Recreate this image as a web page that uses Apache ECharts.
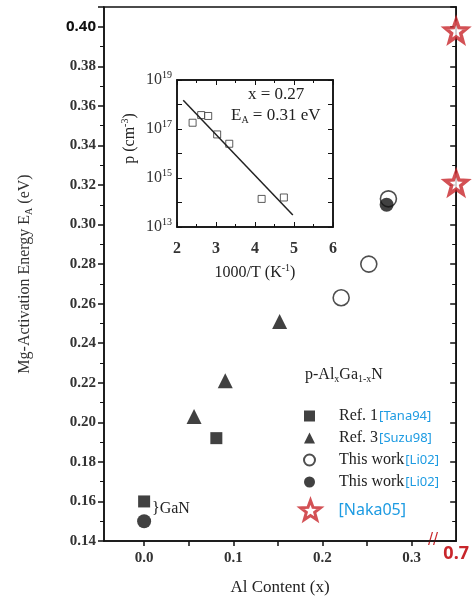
<!DOCTYPE html>
<html lang="en">
<head>
    <meta charset="UTF-8">
    <title>Mg activation energy</title>
    <script src="https://cdn.jsdelivr.net/npm/echarts@6/dist/echarts.min.js"></script>
    <style>
        html, body { margin: 0; padding: 0; background: #fff; }
        #graph { width: 472px; height: 601px; }
    </style>
</head>
<body>
<div id="graph"></div>

<script>
    // main plot data (x = Al content, y = activation energy in eV)
    var ref1X = [0, 0.081];
    var ref1Y = [0.160, 0.192];
    var ref3X = [0.056, 0.091, 0.152];
    var ref3Y = [0.203, 0.221, 0.251];
    var openX = [0.221, 0.252, 0.274];
    var openY = [0.263, 0.280, 0.313];
    var filledX = [0, 0.272];
    var filledY = [0.150, 0.310];
    var nakaX = [0.7, 0.7];
    var nakaY = [0.398, 0.321];

    var xTicks = [0, 0.1, 0.2, 0.3];
    var xMinorTicks = [0, 0.05, 0.1, 0.15, 0.2, 0.25, 0.3];

    // inset data (1000/T vs hole concentration)
    var insetX = [2.40, 2.62, 2.80, 3.03, 3.34, 4.17, 4.74];
    var insetP = [1.8e17, 3.7e17, 3.4e17, 6.0e16, 2.5e16, 1.4e14, 1.6e14];
    var fitX = [2.16, 4.97];
    var fitP = [1.5e18, 3.1e13];

    function pairs(xs, ys){
        return xs.map(function(x, i){ return [x, ys[i]]; });
    }

    var serif = 'Liberation Serif';
    var blue = '#1d9be2';
    var red = '#c8262b';
    var star = 'path://M50,0 L62,33 L98,35 L70,57 L80,92 L50,72 L20,92 L30,57 L2,35 L38,33 Z';

    var legendText = {
        'Ref. 1': '{r|Ref. 1}{b|[Tana94]}',
        'Ref. 3': '{r|Ref. 3}{b|[Suzu98]}',
        'This work (open)': '{r|This work}{b|[Li02]}',
        'This work (filled)': '{r|This work}{b|[Li02]}',
        'Naka05': '{n|[Naka05]}'
    };
    var legendRich = {
        r: {fontFamily: serif, fontSize: 16, color: '#222', padding: [0, 1, 0, 19]},
        b: {fontFamily: 'Noto Sans', fontSize: 13, color: blue},
        n: {fontFamily: 'Noto Sans', fontSize: 16, color: blue, padding: [0, 0, 0, 13]}
    };

    var supRich = {
        s: {fontFamily: serif, fontSize: 10, color: '#222', padding: [0, 0, 9, 0]},
        d: {fontFamily: serif, fontSize: 10, color: '#222', padding: [9, 0, 0, 0]}
    };

    var chartDom = document.getElementById('graph');
    var myChart = echarts.init(chartDom, null, {renderer: 'canvas'});
    var option = {
        animation: false,
        backgroundColor: '#fff',
        grid: [
            {left: 104, top: 7, right: 13, bottom: 60, show: true, borderColor: '#111', borderWidth: 1.5, backgroundColor: 'transparent'},
            {left: 177, top: 80, width: 156, height: 147, show: true, borderColor: '#111', borderWidth: 1.5, backgroundColor: '#fff'}
        ],
        legend: [
            {
                orient: 'vertical', left: 298, top: 403, itemGap: 6,
                itemWidth: 11, itemHeight: 11,
                data: ['Ref. 1', 'Ref. 3', 'This work (open)', 'This work (filled)'],
                formatter: function(n){ return legendText[n]; },
                textStyle: {rich: legendRich}
            },
            {
                orient: 'vertical', left: 294, top: 494, itemGap: 0,
                itemWidth: 20, itemHeight: 20,
                itemStyle: {borderWidth: 3},
                data: ['Naka05'],
                formatter: function(n){ return legendText[n]; },
                textStyle: {rich: legendRich}
            }
        ],
        xAxis: [
            {
                type: 'value', gridIndex: 0, min: -0.045, max: 0.35,
                name: 'Al Content (x)', nameLocation: 'middle', nameGap: 38,
                nameTextStyle: {fontFamily: serif, fontSize: 17, color: '#222'},
                axisLine: {onZero: false, lineStyle: {color: '#111', width: 1.5}},
                axisTick: {show: true, length: 5, customValues: xMinorTicks, lineStyle: {color: '#111', width: 1.5}},
                axisLabel: {customValues: xTicks, margin: 10, fontFamily: serif, fontSize: 15, fontWeight: 'bold', color: '#333',
                    formatter: function(v){ return v.toFixed(1); }},
                splitLine: {show: false}
            },
            {
                type: 'value', gridIndex: 0, min: 0, max: 0.7, position: 'bottom',
                axisLine: {show: false}, axisTick: {show: false}, splitLine: {show: false},
                axisLabel: {customValues: [0.7], margin: 4, fontFamily: 'Noto Sans', fontSize: 18, fontWeight: 'bold', color: red,
                    formatter: function(v){ return '0.7'; }}
            },
            {
                type: 'value', gridIndex: 1, min: 2, max: 6, interval: 1,
                name: '1000/T (K{s|-1})', nameLocation: 'middle', nameGap: 36,
                nameTextStyle: {fontFamily: serif, fontSize: 16, color: '#222', rich: supRich},
                axisLine: {onZero: false, lineStyle: {color: '#111', width: 1.5}},
                axisTick: {inside: true, length: 5, lineStyle: {color: '#111'}},
                minorTick: {show: true, splitNumber: 2, length: 3, lineStyle: {color: '#111'}},
                axisLabel: {margin: 14, fontFamily: serif, fontSize: 16, fontWeight: 'bold', color: '#333'},
                splitLine: {show: false}
            },
            {
                type: 'value', gridIndex: 1, min: 2, max: 6, interval: 1, position: 'top',
                axisLine: {onZero: false, lineStyle: {color: '#111', width: 1.5}},
                axisTick: {inside: true, length: 5, lineStyle: {color: '#111'}},
                minorTick: {show: true, splitNumber: 2, length: 3, lineStyle: {color: '#111'}},
                axisLabel: {show: false}, splitLine: {show: false}
            }
        ],
        yAxis: [
            {
                type: 'value', gridIndex: 0, min: 0.14, max: 0.41, interval: 0.02,
                name: 'Mg-Activation Energy E{d|A} (eV)', nameLocation: 'middle', nameGap: 70,
                nameTextStyle: {fontFamily: serif, fontSize: 16, color: '#333', rich: supRich},
                axisLine: {onZero: false, lineStyle: {color: '#111', width: 1.5}},
                axisTick: {length: 6, lineStyle: {color: '#111', width: 1.5}},
                minorTick: {show: true, splitNumber: 2, length: 4, lineStyle: {color: '#111'}},
                axisLabel: {showMaxLabel: false, margin: 8, fontFamily: serif, fontSize: 15, fontWeight: 'bold', color: '#333',
                    rich: {big: {fontFamily: 'Noto Sans', fontSize: 15, fontWeight: 'bold', color: '#111'}},
                    formatter: function(v){
                        if (Math.abs(v - 0.4) < 1e-6) return '{big|0.40}';
                        return v.toFixed(2);
                    }},
                splitLine: {show: false}
            },
            {
                type: 'value', gridIndex: 0, min: 0.14, max: 0.41, interval: 0.02, position: 'right',
                axisLine: {onZero: false, lineStyle: {color: '#111', width: 1.5}},
                axisTick: {inside: true, length: 6, lineStyle: {color: '#111', width: 1.5}},
                minorTick: {show: true, splitNumber: 2, length: 4, lineStyle: {color: '#111'}},
                axisLabel: {show: false}, splitLine: {show: false}
            },
            {
                type: 'log', logBase: 10, gridIndex: 1, min: 1e13, max: 1e19, interval: 1,
                name: 'p (cm{s|-3})', nameLocation: 'middle', nameGap: 38,
                nameTextStyle: {fontFamily: serif, fontSize: 16, color: '#222', rich: supRich, padding: [0, 0, 0, 30]},
                axisLine: {onZero: false, lineStyle: {color: '#111', width: 1.5}},
                axisTick: {inside: true, length: 5, lineStyle: {color: '#111'}},
                axisLabel: {margin: 5, fontFamily: serif, fontSize: 16, color: '#333', rich: supRich,
                    formatter: function(v){
                        var e = Math.round(Math.log(v) / Math.LN10);
                        return e % 2 === 1 ? '10{s|' + e + '}' : '';
                    }},
                splitLine: {show: false}
            },
            {
                type: 'log', logBase: 10, gridIndex: 1, min: 1e13, max: 1e19, interval: 1, position: 'right',
                axisLine: {onZero: false, lineStyle: {color: '#111', width: 1.5}},
                axisTick: {inside: true, length: 5, lineStyle: {color: '#111'}},
                axisLabel: {show: false}, splitLine: {show: false}
            }
        ],
        series: [
            {
                name: 'Ref. 1', type: 'scatter', xAxisIndex: 0, yAxisIndex: 0,
                symbol: 'rect', symbolSize: 12, itemStyle: {color: '#111'},
                data: pairs(ref1X, ref1Y)
            },
            {
                name: 'Ref. 3', type: 'scatter', xAxisIndex: 0, yAxisIndex: 0,
                symbol: 'triangle', symbolSize: 15, itemStyle: {color: '#111'},
                data: pairs(ref3X, ref3Y)
            },
            {
                name: 'This work (open)', type: 'scatter', xAxisIndex: 0, yAxisIndex: 0,
                symbol: 'circle', symbolSize: 16, itemStyle: {color: '#fff', borderColor: '#222', borderWidth: 1.6},
                data: pairs(openX, openY)
            },
            {
                name: 'This work (filled)', type: 'scatter', xAxisIndex: 0, yAxisIndex: 0,
                symbol: 'circle', symbolSize: 14, itemStyle: {color: '#111'},
                data: pairs(filledX, filledY)
            },
            {
                name: 'Naka05', type: 'scatter', xAxisIndex: 1, yAxisIndex: 0, z: 5,
                symbol: star, symbolSize: 22, itemStyle: {color: '#fff', borderColor: red, borderWidth: 3.5},
                data: pairs(nakaX, nakaY)
            },
            {
                name: 'inset', type: 'scatter', xAxisIndex: 2, yAxisIndex: 2,
                symbol: 'rect', symbolSize: 7, itemStyle: {color: '#fff', borderColor: '#333', borderWidth: 1},
                data: pairs(insetX, insetP)
            },
            {
                name: 'fit', type: 'line', xAxisIndex: 2, yAxisIndex: 2, showSymbol: false, symbol: 'none',
                lineStyle: {color: '#222', width: 1.5},
                data: pairs(fitX, fitP)
            }
        ],
        graphic: [
            {type: 'text', left: 152, top: 501, style: {text: '}GaN', fontFamily: serif, fontSize: 16, fill: '#222'}},
            {type: 'text', left: 305, top: 367, style: {text: 'p-Al{d|x}Ga{d|1-x}N', fontFamily: serif, fontSize: 16, fill: '#222', rich: supRich}},
            {type: 'text', left: 248, top: 86, style: {text: 'x = 0.27', fontFamily: serif, fontSize: 17, fill: '#222'}},
            {type: 'text', left: 231, top: 107, style: {text: 'E{d|A} = 0.31 eV', fontFamily: serif, fontSize: 17, fill: '#222', rich: supRich}},
            {type: 'text', left: 428, top: 533, style: {text: '//', fontFamily: 'DejaVu Sans', fontSize: 15, fill: red}}
        ]
    };

    option && myChart.setOption(option);
</script>
</body>
</html>
